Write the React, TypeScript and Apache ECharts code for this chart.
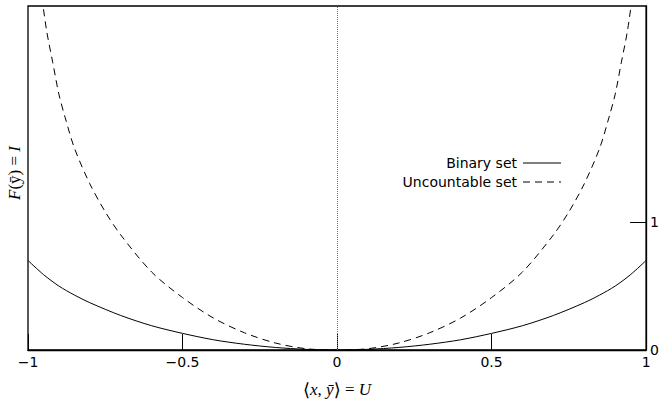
import React, { useEffect, useRef } from "react";
import * as echarts from "echarts";

// Readings from the reference chart
const binaryX = [-1, -0.95, -0.9, -0.85, -0.8, -0.7, -0.6, -0.5, -0.4, -0.3, -0.2, -0.1, 0, 0.1, 0.2, 0.3, 0.4, 0.5, 0.6, 0.7, 0.8, 0.85, 0.9, 0.95, 1];
const binaryY = [0.7, 0.59, 0.5, 0.43, 0.37, 0.27, 0.19, 0.13, 0.08, 0.045, 0.02, 0.005, 0, 0.005, 0.02, 0.045, 0.08, 0.13, 0.19, 0.27, 0.37, 0.43, 0.5, 0.59, 0.7];

const uncountX = [-0.96, -0.94, -0.92, -0.9, -0.88, -0.85, -0.8, -0.75, -0.7, -0.6, -0.5, -0.4, -0.3, -0.2, -0.1, 0, 0.1, 0.2, 0.3, 0.4, 0.5, 0.6, 0.7, 0.75, 0.8, 0.85, 0.88, 0.9, 0.92, 0.94, 0.96];
const uncountY = [2.85, 2.5, 2.25, 2.0, 1.82, 1.58, 1.3, 1.08, 0.9, 0.61, 0.41, 0.25, 0.135, 0.055, 0.01, 0, 0.01, 0.055, 0.135, 0.25, 0.41, 0.61, 0.9, 1.08, 1.3, 1.58, 1.82, 2.0, 2.25, 2.5, 2.85];

const xTicks = [-1, -0.5, 0, 0.5, 1];
const yTicks = [0, 1];
const seriesNames = ["Binary set", "Uncountable set"];

const fmt = (v: number) => String(v).replace("-", "\u2212");

export default function App() {
  const ref = useRef<HTMLDivElement>(null);
  useEffect(() => {
    if (!ref.current) return;
    const chart = echarts.init(ref.current, undefined, { renderer: "svg" });
    const sans = "DejaVu Sans";
    const serif = "Liberation Serif";
    const dash = [7, 5];
    chart.setOption({
      animation: false,
      backgroundColor: "#fff",
      grid: {
        left: 28,
        right: 15,
        top: 6,
        bottom: 47,
        show: true,
        borderColor: "#000",
        borderWidth: 1.3,
      },
      xAxis: {
        type: "value",
        min: -1,
        max: 1,
        interval: 0.5,
        name: "{b|\u27e8}{i|x}, {i|\u0233}{b|\u27e9} = {i|U}",
        nameLocation: "middle",
        nameGap: 30,
        nameTextStyle: {
          color: "#000",
          fontFamily: serif,
          fontSize: 17,
          rich: {
            i: { fontStyle: "italic", fontFamily: serif, fontSize: 17, color: "#000" },
            b: { fontFamily: "DejaVu Sans", fontSize: 18, color: "#000" },
          },
        },
        axisLine: { show: true, onZero: false, lineStyle: { color: "#000", width: 1.3 } },
        axisTick: { show: true, inside: true, length: 16, lineStyle: { color: "#000", width: 1 }, customValues: xTicks },
        axisLabel: {
          color: "#000",
          fontSize: 14,
          fontFamily: sans,
          margin: 5,
          customValues: xTicks,
          formatter: (v: number) => fmt(v),
        },
        splitLine: { show: false },
      },
      yAxis: {
        type: "value",
        position: "right",
        min: 0,
        max: 2.69,
        interval: 1,
        axisLine: { show: true, onZero: false, lineStyle: { color: "#000", width: 1.3 } },
        axisTick: { show: true, inside: true, length: 16, lineStyle: { color: "#000", width: 1 }, customValues: yTicks },
        axisLabel: {
          color: "#000",
          fontSize: 14,
          fontFamily: sans,
          margin: 4,
          customValues: yTicks,
          formatter: (v: number) => fmt(v),
        },
        splitLine: { show: false },
      },
      graphic: [
        {
          type: "text",
          x: 14,
          y: 173,
          rotation: Math.PI / 2,
          style: {
            text: "{i|F}(\u{0233}) = {i|I}",
            fontFamily: serif,
            fontSize: 17,
            fill: "#000",
            align: "center",
            verticalAlign: "middle",
            rich: { i: { fontStyle: "italic", fontFamily: serif, fontSize: 17, fill: "#000" } },
          },
        },
        {
          type: "text",
          x: 517,
          y: 163,
          style: { text: seriesNames[0], fontFamily: sans, fontSize: 14, fill: "#000", align: "right", verticalAlign: "middle" },
        },
        {
          type: "line",
          shape: { x1: 523, y1: 163, x2: 561, y2: 163 },
          style: { stroke: "#000", lineWidth: 1 },
        },
        {
          type: "text",
          x: 517,
          y: 182,
          style: { text: seriesNames[1], fontFamily: sans, fontSize: 14, fill: "#000", align: "right", verticalAlign: "middle" },
        },
        {
          type: "line",
          shape: { x1: 523, y1: 182, x2: 561, y2: 182 },
          style: { stroke: "#000", lineWidth: 1, lineDash: dash },
        },
      ],
      series: [
        {
          name: seriesNames[0],
          type: "line",
          data: binaryX.map((x, i) => [x, binaryY[i]]),
          smooth: 0.3,
          symbol: "none",
          showSymbol: false,
          lineStyle: { color: "#000", width: 1 },
          itemStyle: { color: "#000" },
          clip: true,
          markLine: {
            silent: true,
            symbol: ["none", "none"],
            label: { show: false },
            lineStyle: { type: "dotted", color: "#777", width: 1 },
            data: [{ xAxis: 0 }],
          },
        },
        {
          name: seriesNames[1],
          type: "line",
          data: uncountX.map((x, i) => [x, uncountY[i]]),
          smooth: 0.3,
          symbol: "none",
          showSymbol: false,
          lineStyle: { color: "#000", width: 1, type: dash },
          itemStyle: { color: "#000" },
          clip: true,
        },
      ],
    });
    return () => chart.dispose();
  }, []);
  return <div ref={ref} style={{ position: "fixed", left: 0, top: 0, width: 662, height: 403 }} />;
}
